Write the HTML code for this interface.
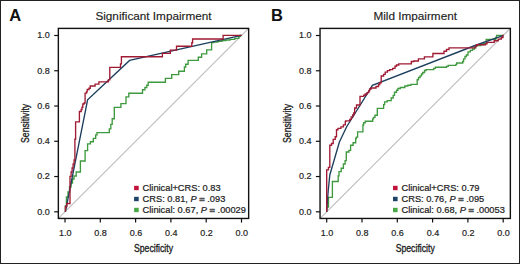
<!DOCTYPE html>
<html><head><meta charset="utf-8"><style>
html,body{margin:0;padding:0;background:#fff;}
svg{display:block;font-family:'Liberation Sans', sans-serif;}
</style></head><body>
<svg width="520" height="264" viewBox="0 0 520 264">
<rect x="0" y="0" width="520" height="264" fill="#fff"/>
<clipPath id="c0"><rect x="58.35" y="28.4" width="190.3" height="190.04999999999998"/></clipPath>
<g clip-path="url(#c0)">
<line x1="47.35" y1="229.43" x2="259.15" y2="17.87" stroke="#bdbdbd" stroke-width="1.1"/>
<polyline points="65.4,211.7 65.4,206.0 66.4,206.0 66.4,197.0 68.0,197.0 68.0,192.0 69.5,192.0 69.5,187.0 71.0,187.0 71.0,183.0 72.5,183.0 72.5,179.0 74.0,179.0 74.0,176.0 76.2,176.0 76.2,172.0 80.4,172.0 80.4,161.0 85.1,161.0 85.1,150.6 87.6,150.6 87.6,143.9 90.4,143.9 90.4,141.7 93.3,141.7 93.3,138.3 95.7,138.3 95.7,134.8 97.0,134.8 97.0,132.6 109.3,132.6 109.3,128.8 110.8,128.8 110.8,124.4 112.2,124.4 112.2,118.7 114.3,118.7 114.3,107.4 120.9,107.4 120.9,103.6 126.0,103.6 126.0,96.9 128.8,96.9 128.8,93.2 142.5,93.2 142.5,89.7 144.9,89.7 144.9,87.5 146.8,87.5 146.8,85.2 148.2,85.2 148.2,82.2 165.4,82.2 165.4,78.4 171.7,78.4 171.7,74.6 178.7,74.6 178.7,71.2 184.4,71.2 184.4,67.0 185.7,67.0 185.7,64.2 188.1,64.2 188.1,60.4 198.3,60.4 198.3,57.2 201.6,57.2 201.6,53.9 206.7,53.9 206.7,49.9 211.6,49.9 211.6,42.6 214.0,42.6 214.0,42.0 218.0,42.0 218.0,41.3 222.0,41.3 222.0,40.6 226.0,40.6 226.0,40.0 230.0,40.0 230.0,39.3 234.8,39.3 234.8,38.4 238.8,38.4 238.8,36.2 240.1,36.2 240.1,35.3 241.5,35.3" fill="none" stroke="#3f9a3f" stroke-width="1.35" stroke-linejoin="miter"/>
<polyline points="65.4,211.7 87.6,99.8 129.6,60.4 241.5,35.3" fill="none" stroke="#1d3f5e" stroke-width="1.35" stroke-linejoin="miter"/>
<polyline points="65.4,211.7 65.4,206.5 66.8,206.5 66.8,203.5 70.0,203.5 70.0,176.4 71.1,176.4 71.1,172.0 72.1,172.0 72.1,168.0 73.1,168.0 73.1,164.0 74.1,164.0 74.1,160.0 74.9,160.0 74.9,139.2 75.6,139.2 75.6,121.9 79.4,121.9 79.4,111.5 81.2,111.5 81.2,109.5 82.0,109.5 82.0,107.2 82.8,107.2 82.8,104.0 84.1,104.0 84.1,103.0 85.1,103.0 85.1,93.1 86.5,93.1 86.5,91.9 87.2,91.9 87.2,89.5 89.0,89.5 89.0,88.2 90.2,88.2 90.2,86.0 95.1,86.0 95.1,84.1 98.9,84.1 98.9,81.8 108.4,81.8 108.4,79.9 109.8,79.9 109.8,67.3 120.5,67.3 120.5,63.9 121.4,63.9 121.4,56.7 162.4,56.7 162.4,53.4 170.3,53.4 170.3,50.1 176.5,50.1 176.5,46.2 191.8,46.2 191.8,42.7 192.6,42.7 192.6,39.0 223.1,39.0 223.1,35.3 241.5,35.3" fill="none" stroke="#a01a33" stroke-width="1.35" stroke-linejoin="miter"/>
</g>
<rect x="58.35" y="28.4" width="190.30" height="190.05" fill="none" stroke="#111" stroke-width="1.4"/>
<line x1="54.2" y1="211.80" x2="58.35" y2="211.80" stroke="#111" stroke-width="1.2"/>
<text transform="translate(49.75,214.75) scale(0.94,1)" font-size="9.6" text-anchor="end" fill="#222" stroke="#222" stroke-width="0.2">0.0</text>
<line x1="54.2" y1="176.54" x2="58.35" y2="176.54" stroke="#111" stroke-width="1.2"/>
<text transform="translate(49.75,179.49) scale(0.94,1)" font-size="9.6" text-anchor="end" fill="#222" stroke="#222" stroke-width="0.2">0.2</text>
<line x1="54.2" y1="141.28" x2="58.35" y2="141.28" stroke="#111" stroke-width="1.2"/>
<text transform="translate(49.75,144.23) scale(0.94,1)" font-size="9.6" text-anchor="end" fill="#222" stroke="#222" stroke-width="0.2">0.4</text>
<line x1="54.2" y1="106.02" x2="58.35" y2="106.02" stroke="#111" stroke-width="1.2"/>
<text transform="translate(49.75,108.97) scale(0.94,1)" font-size="9.6" text-anchor="end" fill="#222" stroke="#222" stroke-width="0.2">0.6</text>
<line x1="54.2" y1="70.76" x2="58.35" y2="70.76" stroke="#111" stroke-width="1.2"/>
<text transform="translate(49.75,73.71) scale(0.94,1)" font-size="9.6" text-anchor="end" fill="#222" stroke="#222" stroke-width="0.2">0.8</text>
<line x1="54.2" y1="35.50" x2="58.35" y2="35.50" stroke="#111" stroke-width="1.2"/>
<text transform="translate(49.75,38.45) scale(0.94,1)" font-size="9.6" text-anchor="end" fill="#222" stroke="#222" stroke-width="0.2">1.0</text>
<line x1="65.00" y1="218.45" x2="65.00" y2="222.6" stroke="#111" stroke-width="1.2"/>
<text transform="translate(65.30,235.6) scale(0.94,1)" font-size="9.6" text-anchor="middle" fill="#222" stroke="#222" stroke-width="0.2">1.0</text>
<line x1="100.30" y1="218.45" x2="100.30" y2="222.6" stroke="#111" stroke-width="1.2"/>
<text transform="translate(100.60,235.6) scale(0.94,1)" font-size="9.6" text-anchor="middle" fill="#222" stroke="#222" stroke-width="0.2">0.8</text>
<line x1="135.60" y1="218.45" x2="135.60" y2="222.6" stroke="#111" stroke-width="1.2"/>
<text transform="translate(135.90,235.6) scale(0.94,1)" font-size="9.6" text-anchor="middle" fill="#222" stroke="#222" stroke-width="0.2">0.6</text>
<line x1="170.90" y1="218.45" x2="170.90" y2="222.6" stroke="#111" stroke-width="1.2"/>
<text transform="translate(171.20,235.6) scale(0.94,1)" font-size="9.6" text-anchor="middle" fill="#222" stroke="#222" stroke-width="0.2">0.4</text>
<line x1="206.20" y1="218.45" x2="206.20" y2="222.6" stroke="#111" stroke-width="1.2"/>
<text transform="translate(206.50,235.6) scale(0.94,1)" font-size="9.6" text-anchor="middle" fill="#222" stroke="#222" stroke-width="0.2">0.2</text>
<line x1="241.50" y1="218.45" x2="241.50" y2="222.6" stroke="#111" stroke-width="1.2"/>
<text transform="translate(241.80,235.6) scale(0.94,1)" font-size="9.6" text-anchor="middle" fill="#222" stroke="#222" stroke-width="0.2">0.0</text>
<text transform="translate(153.50,252.4) scale(0.77,1)" font-size="11.3" text-anchor="middle" fill="#222" stroke="#222" stroke-width="0.35">Specificity</text>
<text transform="translate(29.2,123.4) rotate(-90) scale(0.77,1)" font-size="11.3" text-anchor="middle" fill="#222" stroke="#222" stroke-width="0.35">Sensitivity</text>
<text x="153.50" y="20.3" font-size="11.75" text-anchor="middle" fill="#222" stroke="#222" stroke-width="0.15">Significant Impairment</text>
<text x="9.2" y="20.8" font-size="16.5" font-weight="bold" fill="#111">A</text>
<rect x="134.1" y="185.80" width="4.6" height="4.4" fill="#c0143c"/>
<text x="142.6" y="191.30" font-size="9.28" fill="#222" stroke="#222" stroke-width="0.22">Clinical+CRS: 0.83</text>
<rect x="134.1" y="196.80" width="4.6" height="4.4" fill="#1d4466"/>
<text x="142.6" y="202.30" font-size="9.28" fill="#222" stroke="#222" stroke-width="0.22">CRS: 0.81, <tspan font-style="italic">P</tspan> <tspan stroke="#555" stroke-width="0.7" fill="#555">=</tspan> .093</text>
<rect x="134.1" y="207.80" width="4.6" height="4.4" fill="#4aa84a"/>
<text x="142.6" y="213.30" font-size="9.28" fill="#222" stroke="#222" stroke-width="0.22">Clinical: 0.67, <tspan font-style="italic">P</tspan> <tspan stroke="#555" stroke-width="0.7" fill="#555">=</tspan> .00029</text>
<clipPath id="c261.7"><rect x="320.05" y="28.4" width="190.3" height="190.04999999999998"/></clipPath>
<g clip-path="url(#c261.7)">
<line x1="309.05" y1="229.43" x2="520.85" y2="17.87" stroke="#bdbdbd" stroke-width="1.1"/>
<polyline points="326.7,211.7 326.7,207.0 328.5,207.0 328.5,197.3 332.4,197.3 332.4,181.5 338.2,181.5 338.2,175.9 339.0,175.9 339.0,171.6 341.2,171.6 341.2,168.2 343.4,168.2 343.4,164.0 345.1,164.0 345.1,160.6 346.3,160.6 346.3,152.0 348.9,152.0 348.9,150.3 350.6,150.3 350.6,145.2 353.1,145.2 353.1,142.7 355.7,142.7 355.7,138.4 356.4,138.4 356.4,137.1 357.6,137.1 357.6,131.8 362.9,131.8 362.9,125.0 363.6,125.0 363.6,122.7 365.2,122.7 365.2,121.2 368.2,121.2 372.7,121.2 372.7,118.9 373.5,118.9 373.5,117.4 375.0,117.4 375.0,115.2 377.3,115.2 377.3,108.3 383.6,108.3 383.6,106.0 383.6,104.6 384.6,104.6 384.6,101.9 387.2,101.9 387.2,100.6 391.2,100.6 391.2,98.0 393.2,98.0 393.2,95.3 394.5,95.3 394.5,92.2 396.5,92.2 396.5,90.2 397.9,90.2 397.9,88.5 400.3,88.5 400.3,87.5 404.8,87.5 404.8,86.0 407.9,86.0 407.9,85.2 410.9,85.2 410.9,84.4 415.5,84.4 417.2,84.4 417.2,79.7 418.5,79.7 418.5,77.5 420.1,77.5 420.1,75.9 421.5,75.9 421.5,74.0 422.7,74.0 422.7,72.5 424.5,72.5 424.5,70.5 426.1,70.5 426.1,69.6 433.7,69.6 433.7,68.3 435.4,68.3 435.4,67.2 446.5,67.2 446.5,66.3 448.2,66.3 448.2,65.4 455.9,65.4 455.9,64.4 456.7,64.4 456.7,63.0 462.7,63.0 462.7,61.5 463.6,61.5 463.6,58.9 465.0,58.9 465.0,56.5 466.4,56.5 466.4,55.0 468.0,55.0 468.0,51.8 470.3,51.8 470.3,50.3 472.5,50.3 472.5,49.0 474.3,49.0 474.3,47.9 475.9,47.9 475.9,45.5 480.7,45.5 480.7,44.7 483.0,44.7 483.0,43.5 486.2,43.5 486.2,39.3 495.8,39.3 495.8,37.5 496.6,37.5 496.6,35.7 496.6,35.3 503.5,35.3" fill="none" stroke="#3f9a3f" stroke-width="1.35" stroke-linejoin="miter"/>
<polyline points="326.7,211.7 327.3,203.0 328.2,191.0 329.8,175.0 339.4,142.0 346.8,126.5 355.9,112.0 372.4,85.3 475.0,45.5 503.5,35.3" fill="none" stroke="#1d3f5e" stroke-width="1.35" stroke-linejoin="miter"/>
<polyline points="326.7,211.7 326.7,169.9 328.4,169.9 328.4,167.4 329.8,167.4 329.8,145.2 331.5,145.2 331.5,143.5 333.2,143.5 333.2,139.3 335.2,139.3 335.2,136.7 336.5,136.7 336.5,130.3 336.5,129.7 337.9,129.7 337.9,128.3 340.9,128.3 340.9,126.8 343.4,126.8 343.4,124.8 345.3,124.8 345.3,121.4 345.8,121.4 345.8,120.9 349.8,120.9 349.8,119.4 351.2,119.4 351.2,116.9 352.7,116.9 352.7,115.0 353.7,115.0 353.7,113.0 354.7,113.0 354.7,108.0 356.5,108.0 356.5,105.0 360.0,105.0 360.0,96.4 363.8,96.4 363.8,95.2 365.2,95.2 365.2,94.0 367.0,94.0 367.0,92.6 368.8,92.6 368.8,90.8 369.6,90.8 369.6,89.0 371.1,89.0 371.1,88.0 372.4,88.0 376.0,88.0 376.0,86.5 378.5,86.5 378.5,84.5 379.8,84.5 379.8,82.7 381.2,82.7 381.2,76.0 383.6,76.0 383.6,74.4 385.2,74.4 385.2,72.1 387.4,72.1 387.4,70.6 389.7,70.6 389.7,69.6 392.7,69.6 392.7,68.3 395.0,68.3 395.0,66.2 396.5,66.2 396.5,65.0 398.8,65.0 398.8,63.9 411.3,63.9 411.3,61.5 413.9,61.5 413.9,61.0 418.4,61.0 418.4,58.9 424.4,58.9 424.4,56.8 432.9,56.8 432.9,53.5 444.0,53.5 444.0,51.2 446.5,51.2 446.5,49.5 449.0,49.5 449.0,47.8 475.1,47.8 475.1,46.3 476.7,46.3 476.7,44.7 485.4,44.7 485.4,43.9 487.0,43.9 487.0,42.3 494.2,42.3 494.2,40.7 498.2,40.7 498.2,39.1 501.3,39.1 501.3,37.5 503.0,37.5 503.0,35.3 503.5,35.3" fill="none" stroke="#a01a33" stroke-width="1.35" stroke-linejoin="miter"/>
</g>
<rect x="320.05" y="28.4" width="190.30" height="190.05" fill="none" stroke="#111" stroke-width="1.4"/>
<line x1="315.9" y1="211.80" x2="320.05" y2="211.80" stroke="#111" stroke-width="1.2"/>
<text transform="translate(311.45,214.75) scale(0.94,1)" font-size="9.6" text-anchor="end" fill="#222" stroke="#222" stroke-width="0.2">0.0</text>
<line x1="315.9" y1="176.54" x2="320.05" y2="176.54" stroke="#111" stroke-width="1.2"/>
<text transform="translate(311.45,179.49) scale(0.94,1)" font-size="9.6" text-anchor="end" fill="#222" stroke="#222" stroke-width="0.2">0.2</text>
<line x1="315.9" y1="141.28" x2="320.05" y2="141.28" stroke="#111" stroke-width="1.2"/>
<text transform="translate(311.45,144.23) scale(0.94,1)" font-size="9.6" text-anchor="end" fill="#222" stroke="#222" stroke-width="0.2">0.4</text>
<line x1="315.9" y1="106.02" x2="320.05" y2="106.02" stroke="#111" stroke-width="1.2"/>
<text transform="translate(311.45,108.97) scale(0.94,1)" font-size="9.6" text-anchor="end" fill="#222" stroke="#222" stroke-width="0.2">0.6</text>
<line x1="315.9" y1="70.76" x2="320.05" y2="70.76" stroke="#111" stroke-width="1.2"/>
<text transform="translate(311.45,73.71) scale(0.94,1)" font-size="9.6" text-anchor="end" fill="#222" stroke="#222" stroke-width="0.2">0.8</text>
<line x1="315.9" y1="35.50" x2="320.05" y2="35.50" stroke="#111" stroke-width="1.2"/>
<text transform="translate(311.45,38.45) scale(0.94,1)" font-size="9.6" text-anchor="end" fill="#222" stroke="#222" stroke-width="0.2">1.0</text>
<line x1="326.70" y1="218.45" x2="326.70" y2="222.6" stroke="#111" stroke-width="1.2"/>
<text transform="translate(327.00,235.6) scale(0.94,1)" font-size="9.6" text-anchor="middle" fill="#222" stroke="#222" stroke-width="0.2">1.0</text>
<line x1="362.00" y1="218.45" x2="362.00" y2="222.6" stroke="#111" stroke-width="1.2"/>
<text transform="translate(362.30,235.6) scale(0.94,1)" font-size="9.6" text-anchor="middle" fill="#222" stroke="#222" stroke-width="0.2">0.8</text>
<line x1="397.30" y1="218.45" x2="397.30" y2="222.6" stroke="#111" stroke-width="1.2"/>
<text transform="translate(397.60,235.6) scale(0.94,1)" font-size="9.6" text-anchor="middle" fill="#222" stroke="#222" stroke-width="0.2">0.6</text>
<line x1="432.60" y1="218.45" x2="432.60" y2="222.6" stroke="#111" stroke-width="1.2"/>
<text transform="translate(432.90,235.6) scale(0.94,1)" font-size="9.6" text-anchor="middle" fill="#222" stroke="#222" stroke-width="0.2">0.4</text>
<line x1="467.90" y1="218.45" x2="467.90" y2="222.6" stroke="#111" stroke-width="1.2"/>
<text transform="translate(468.20,235.6) scale(0.94,1)" font-size="9.6" text-anchor="middle" fill="#222" stroke="#222" stroke-width="0.2">0.2</text>
<line x1="503.20" y1="218.45" x2="503.20" y2="222.6" stroke="#111" stroke-width="1.2"/>
<text transform="translate(503.50,235.6) scale(0.94,1)" font-size="9.6" text-anchor="middle" fill="#222" stroke="#222" stroke-width="0.2">0.0</text>
<text transform="translate(415.20,252.4) scale(0.77,1)" font-size="11.3" text-anchor="middle" fill="#222" stroke="#222" stroke-width="0.35">Specificity</text>
<text transform="translate(290.9,123.4) rotate(-90) scale(0.77,1)" font-size="11.3" text-anchor="middle" fill="#222" stroke="#222" stroke-width="0.35">Sensitivity</text>
<text x="415.20" y="20.3" font-size="11.75" text-anchor="middle" fill="#222" stroke="#222" stroke-width="0.15">Mild Impairment</text>
<text x="270.9" y="20.8" font-size="16.5" font-weight="bold" fill="#111">B</text>
<rect x="393.0" y="185.80" width="4.6" height="4.4" fill="#c0143c"/>
<text x="401.5" y="191.30" font-size="9.28" fill="#222" stroke="#222" stroke-width="0.22">Clinical+CRS: 0.79</text>
<rect x="393.0" y="196.80" width="4.6" height="4.4" fill="#1d4466"/>
<text x="401.5" y="202.30" font-size="9.28" fill="#222" stroke="#222" stroke-width="0.22">CRS: 0.76, <tspan font-style="italic">P</tspan> <tspan stroke="#555" stroke-width="0.7" fill="#555">=</tspan> .095</text>
<rect x="393.0" y="207.80" width="4.6" height="4.4" fill="#4aa84a"/>
<text x="401.5" y="213.30" font-size="9.28" fill="#222" stroke="#222" stroke-width="0.22">Clinical: 0.68, <tspan font-style="italic">P</tspan> <tspan stroke="#555" stroke-width="0.7" fill="#555">=</tspan> .00053</text>
<rect x="0.5" y="0.5" width="519" height="263" fill="none" stroke="#222" stroke-width="1"/>
</svg>
</body></html>
